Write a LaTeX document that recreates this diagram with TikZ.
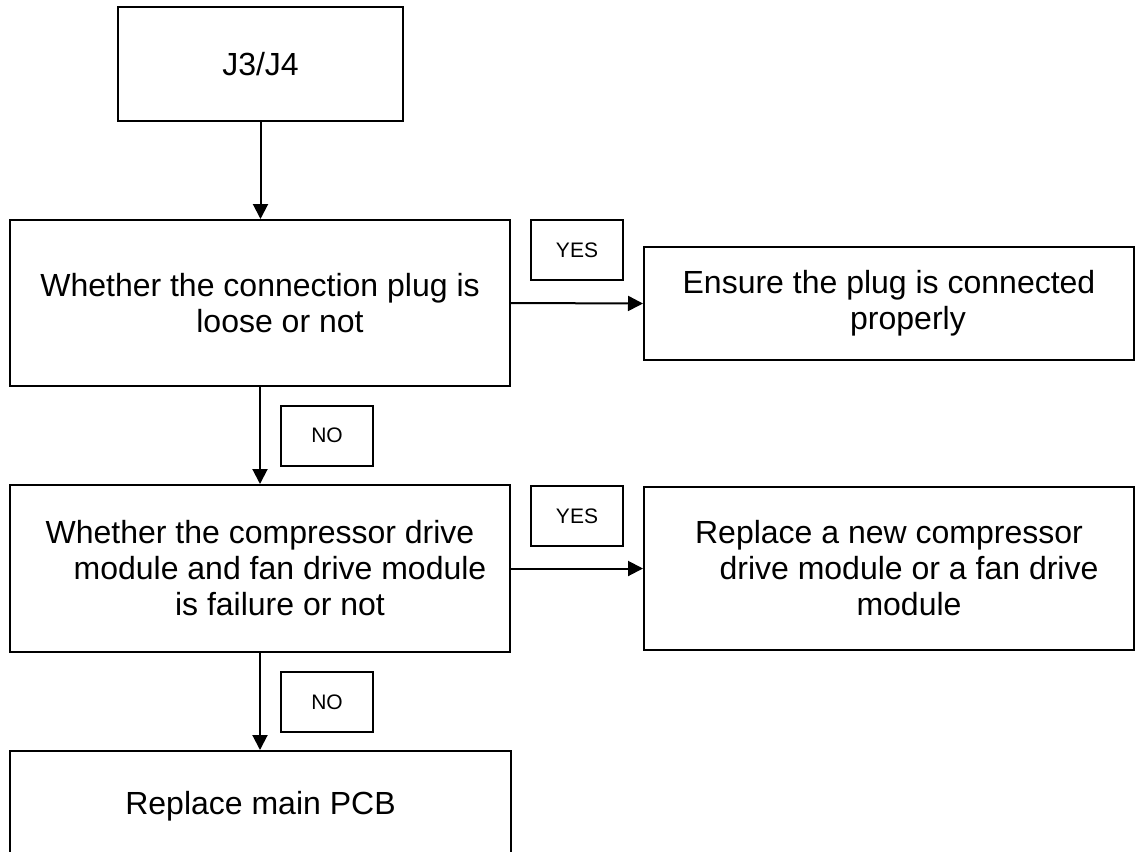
\documentclass[tikz,border=0pt]{standalone}
\usepackage{fontspec}
\setmainfont{Liberation Sans}
\usetikzlibrary{arrows.meta}
\tikzset{
  box/.style={draw, line width=2pt, inner sep=0pt, align=center,
    font=\fontsize{32}{36}\selectfont},
  tag/.style={draw, line width=2pt, inner sep=0pt, minimum width=92pt, minimum height=60pt,
    font=\fontsize{21}{24}\selectfont},
  flow/.style={line width=2pt, -{Triangle[length=15pt,width=15pt]}}
}
\begin{document}
\begin{tikzpicture}[x=1pt,y=-1pt]
\useasboundingbox (0,0) rectangle (1136,852);
\node[box, minimum width=285pt, minimum height=114pt] (J) at (260.5,64) {J3/J4};
\node[box, minimum width=500pt, minimum height=166pt] (B2) at (260,303) {Whether the connection plug is\\\hspace*{40pt}loose or not};
\node[box, minimum width=490pt, minimum height=113pt] (B3) at (889,303.5) {Ensure the plug is connected\\\hspace*{38pt}properly};
\node[box, minimum width=500pt, minimum height=167pt] (B4) at (260,568.5) {Whether the compressor drive\\\hspace*{40pt}module and fan drive module\\\hspace*{40pt}is failure or not};
\node[box, minimum width=490pt, minimum height=163pt] (B5) at (889,568.5) {Replace a new compressor\\\hspace*{40pt}drive module or a fan drive\\\hspace*{40pt}module};
\node[box, minimum width=501pt, minimum height=110pt] (B6) at (260.5,806) {Replace main PCB};
\node[tag] (Y1) at (577,250) {YES};
\node[tag] (N1) at (327,435.5) {NO};
\node[tag] (Y2) at (577,516) {YES};
\node[tag] (N2) at (327,702) {NO};
\draw[flow] (J.south) -- (J.south |- B2.north);
\draw[flow] (B2.east) -- (B3.west);
\draw[flow] (B2.south) -- (B4.north);
\draw[flow] (B4.east) -- (B5.west);
\draw[flow] (B4.south) -- (B4.south |- B6.north);
\end{tikzpicture}
\end{document}
